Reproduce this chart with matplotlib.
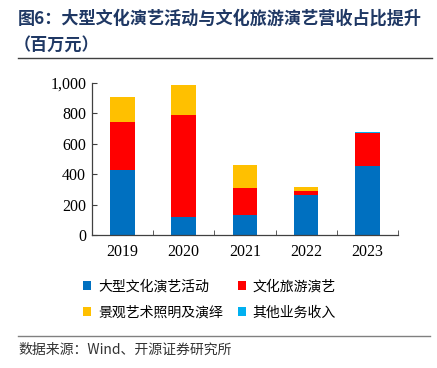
import matplotlib
matplotlib.use('Agg')
import matplotlib.pyplot as plt
from matplotlib.lines import Line2D

plt.rcParams['font.family'] = ['Noto Sans CJK SC', 'DejaVu Sans']

years = ['2019', '2020', '2021', '2022', '2023']
big_shows = [428, 122, 135, 262, 454]      # 大型文化演艺活动
tour_shows = [312, 668, 175, 30, 214]      # 文化旅游演艺
lighting = [168, 193, 151, 24, 0]          # 景观艺术照明及演绎
other = [0, 0, 0, 0, 9]                    # 其他业务收入

series = [
    ('大型文化演艺活动', big_shows, '#0070C0'),
    ('文化旅游演艺', tour_shows, '#FF0000'),
    ('景观艺术照明及演绎', lighting, '#FFC000'),
    ('其他业务收入', other, '#00B0F0'),
]

fig = plt.figure(figsize=(4.37, 3.68), dpi=100)
ax = fig.add_axes([0.210, 0.3606, 0.701, 0.4144])

x = list(range(len(years)))
bottom = [0] * len(years)
bars = []
for name, vals, color in series:
    b = ax.bar(x, vals, width=0.4, bottom=bottom, color=color, label=name)
    bars.append(b)
    bottom = [p + v for p, v in zip(bottom, vals)]

ax.set_xlim(-0.5, len(years) - 0.5)
ax.set_ylim(0, 1000)
ax.set_yticks([0, 200, 400, 600, 800, 1000])
ax.set_yticklabels(['0', '200', '400', '600', '800', '1,000'],
                   family='Liberation Serif', fontsize=11.5)
ax.set_xticks(x)
ax.set_xticklabels(years, family='Liberation Serif', fontsize=11.5)
ax.tick_params(axis='x', length=0, pad=6)
ax.tick_params(axis='y', direction='in', length=3.5, color='#404040', pad=4)
# category boundary ticks on the x axis
ax.set_xticks([i - 0.5 for i in range(len(years) + 1)], minor=True)
ax.tick_params(axis='x', which='minor', direction='in', length=3.5, color='#404040')
for s in ['top', 'right']:
    ax.spines[s].set_visible(False)
for s in ['left', 'bottom']:
    ax.spines[s].set_color('#404040')
    ax.spines[s].set_linewidth(0.9)

# legend, filled row by row
order = [0, 2, 1, 3]
fig.legend([bars[i] for i in order], [series[i][0] for i in order],
           loc='upper left', bbox_to_anchor=(0.178, 1 - 274 / 368), ncol=2,
           frameon=False, fontsize=10, handlelength=0.55, handleheight=0.55,
           handletextpad=0.5, columnspacing=1.1, labelspacing=0.85,
           borderaxespad=0)

# title
navy = '#1F3864'
fig.text(18 / 437, 1 - 19 / 368, '图6：大型文化演艺活动与文化旅游演艺营收占比提升',
         fontsize=12.3, fontweight='bold', color=navy, va='center', ha='left')
fig.text(14 / 437, 1 - 45 / 368, '（百万元）',
         fontsize=12.3, fontweight='bold', color=navy, va='center', ha='left')
fig.add_artist(Line2D([18 / 437, 432 / 437], [1 - 58 / 368, 1 - 58 / 368],
                      color='#404040', linewidth=1.0))
fig.add_artist(Line2D([18 / 437, 430 / 437], [1 - 336 / 368, 1 - 336 / 368],
                      color='#808080', linewidth=1.0))
fig.text(18 / 437, 1 - 350 / 368, '数据来源：Wind、开源证券研究所',
         fontsize=10, color='#333333', va='center', ha='left')

fig.savefig('out.png', dpi=100)
